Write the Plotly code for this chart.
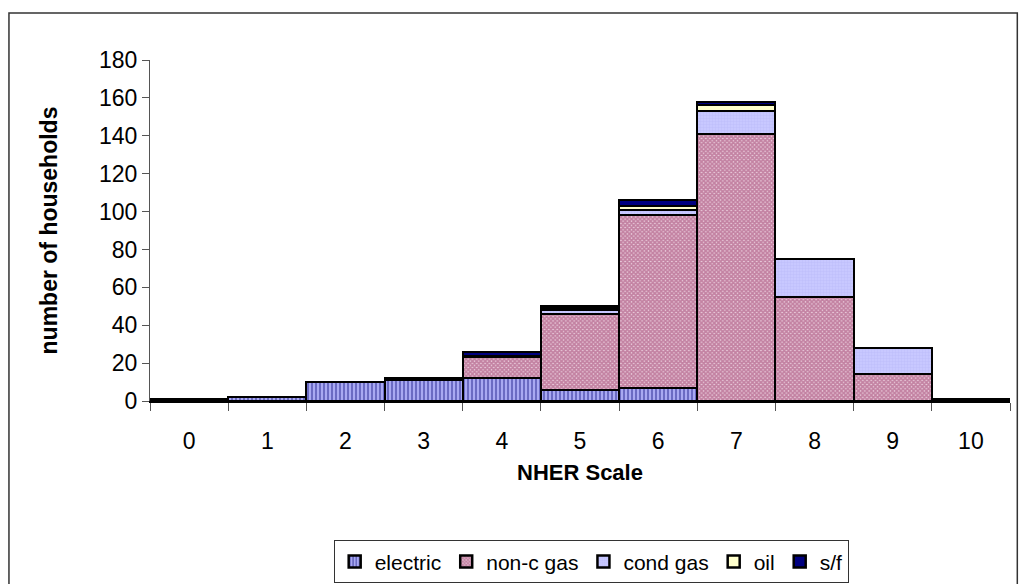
import plotly.graph_objects as go

categories = ["0", "1", "2", "3", "4", "5", "6", "7", "8", "9", "10"]
electric = [1, 2, 10, 11, 12, 6, 7, 0, 0, 0, 0]
non_c_gas = [0, 0, 0, 0, 11, 40, 91, 141, 55, 14, 0]
cond_gas = [0, 0, 0, 0, 1, 2, 3, 12, 20, 14, 1]
oil = [0, 0, 0, 0, 0, 1, 2, 3, 0, 0, 0]
s_f = [0, 0, 0, 1, 2, 1, 3, 2, 0, 0, 0]
y_ticks = [0, 20, 40, 60, 80, 100, 120, 140, 160, 180]

FONT = "Liberation Sans, Arial, sans-serif"
line = dict(color="black", width=2.5)

fig = go.Figure()
fig.add_trace(go.Bar(x=categories, y=electric, name="electric",
                     marker=dict(color="#7c7cd0", line=line,
                                 pattern=dict(shape="|", fgcolor="#2e2e94", bgcolor="#a9a9f2",
                                              size=4, solidity=0.5))))
fig.add_trace(go.Bar(x=categories, y=non_c_gas, name="non-c gas",
                     marker=dict(color="#cc8fb0", line=line,
                                 pattern=dict(shape="x", fgcolor="#993366", bgcolor="#ecd0de",
                                              size=3, solidity=0.8))))
fig.add_trace(go.Bar(x=categories, y=cond_gas, name="cond gas",
                     marker=dict(color="#c4c4ff", line=line,
                                 pattern=dict(shape="+", fgcolor="#b3b3f5", bgcolor="#c8c8ff",
                                              size=3, solidity=0.3))))
fig.add_trace(go.Bar(x=categories, y=oil, name="oil",
                     marker=dict(color="#ffffcc", line=line)))
fig.add_trace(go.Bar(x=categories, y=s_f, name="s/f",
                     marker=dict(color="#000080", line=line)))

fig.update_layout(
    barmode="stack",
    bargap=0,
    width=1020,
    height=584,
    margin=dict(l=150, r=10, t=60, b=183, autoexpand=False),
    paper_bgcolor="white",
    plot_bgcolor="white",
    font=dict(family=FONT, size=23, color="black"),
    showlegend=True,
    legend=dict(orientation="h", x=0.513, xanchor="center", y=-0.472, yanchor="middle",
                bordercolor="#333333", borderwidth=1, font=dict(size=21),
                itemwidth=30, traceorder="normal"),
    xaxis=dict(type="category", showline=True, linecolor="black", linewidth=2,
               ticks="outside", tickson="boundaries", ticklen=8, tickcolor="#555555",
               ticklabelstandoff=18, showgrid=False, tickfont=dict(size=23),
               title=dict(text="<b>NHER Scale</b>", font=dict(size=22), standoff=12)),
    yaxis=dict(range=[0, 180], tickvals=y_ticks, showline=True, linecolor="#555555",
               linewidth=1, ticks="outside", ticklen=7, tickcolor="#555555",
               showgrid=False, zeroline=False, tickfont=dict(size=23),
               title=dict(text="<b>number of households</b>", font=dict(size=23), standoff=34)),
    shapes=[dict(type="rect", xref="paper", yref="paper", x0=-0.1640, x1=1.0085,
                 y0=-0.56, y1=1.1378, line=dict(color="#333333", width=1.5))],
)

fig.write_html("out.html")
